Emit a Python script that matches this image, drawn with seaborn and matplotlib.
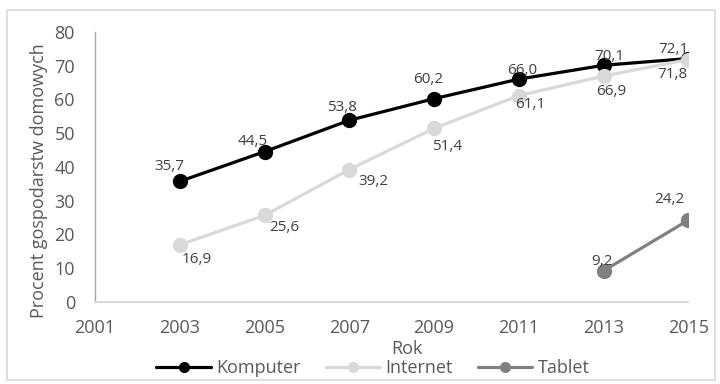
import pandas as pd
import matplotlib.pyplot as plt
import seaborn as sns
from matplotlib.patches import Rectangle
from matplotlib.lines import Line2D

# dane
lata = [2003, 2005, 2007, 2009, 2011, 2013, 2015]
komputer = [35.7, 44.5, 53.8, 60.2, 66.0, 70.1, 72.1]
internet = [16.9, 25.6, 39.2, 51.4, 61.1, 66.9, 71.8]
lata_tablet = [2013, 2015]
tablet = [9.2, 24.2]

df = pd.concat([
    pd.DataFrame({'Rok': lata, 'Procent': komputer, 'Seria': 'Komputer'}),
    pd.DataFrame({'Rok': lata, 'Procent': internet, 'Seria': 'Internet'}),
    pd.DataFrame({'Rok': lata_tablet, 'Procent': tablet, 'Seria': 'Tablet'}),
])

kolory = {'Komputer': '#000000', 'Internet': '#d9d9d9', 'Tablet': '#808080'}
szary = '#595959'

sns.set_style('white')
plt.rcParams['font.family'] = ['Open Sans', 'DejaVu Sans']

fig, ax = plt.subplots(figsize=(7.2, 3.84), dpi=100)
fig.subplots_adjust(left=0.132, right=0.956, top=0.917, bottom=0.214)

sns.lineplot(data=df, x='Rok', y='Procent', hue='Seria', palette=kolory,
             marker='o', markersize=11, markeredgewidth=0, linewidth=2.3,
             legend=False, ax=ax, zorder=3)

# etykiety danych (przesuniecia w pikselach)
off_k = [(-10, 15), (-12, 10), (-7, 13), (-6, 19), (3, 9), (6, 9), (-15, 9)]
off_i = [(17, -15), (20, -12), (24, -12), (13, -18), (11, -9), (8, -15), (-16, -15)]
off_t = [(-2, 9), (-19, 21)]
for xs, ys, offs in [(lata, komputer, off_k), (lata, internet, off_i),
                     (lata_tablet, tablet, off_t)]:
    for x, y, (dx, dy) in zip(xs, ys, offs):
        ax.annotate(f'{y:.1f}'.replace('.', ','), (x, y),
                    xytext=(dx * 0.72, dy * 0.72), textcoords='offset points',
                    ha='center', va='center', fontsize=11, color='#404040',
                    zorder=5)

ax.set_xlim(2001, 2015)
ax.set_ylim(0, 80)
ax.set_xticks(range(2001, 2016, 2))
ax.set_yticks(range(0, 81, 10))
ax.set_xlabel('Rok', fontsize=13, color=szary)
ax.set_ylabel('Procent gospodarstw domowych', fontsize=13, color=szary)
ax.xaxis.set_label_coords(0.526, -0.142)
ax.yaxis.set_label_coords(-0.080, 0.448)

for s in ['top', 'right']:
    ax.spines[s].set_visible(False)
ax.spines['left'].set_color('#a6a6a6')
ax.spines['bottom'].set_color('#d9d9d9')
ax.spines['left'].set_linewidth(1)
ax.spines['bottom'].set_linewidth(1.5)
ax.tick_params(axis='y', direction='inout', length=9, width=1, color='#a6a6a6',
               labelsize=13, labelcolor=szary, pad=10)
ax.tick_params(axis='x', direction='inout', length=11, width=1.5, color='#d9d9d9',
               labelsize=13, labelcolor=szary, pad=7)

# legenda
uchwyty = [Line2D([], [], color=kolory[k], marker='o', markersize=8,
                  markeredgewidth=0, linewidth=2.3) for k in kolory]
fig.legend(uchwyty, list(kolory), loc='center', bbox_to_anchor=(0.518, 0.042),
           ncol=3, frameon=False, fontsize=13, labelcolor=szary,
           handlelength=3.0, handletextpad=0.3, columnspacing=1.4)

fig.patches.append(Rectangle((7 / 720, 4 / 384), 708 / 720, 370 / 384,
                             transform=fig.transFigure, fill=False,
                             edgecolor='#d9d9d9', linewidth=1.2))

plt.savefig('out.png', dpi=100)
